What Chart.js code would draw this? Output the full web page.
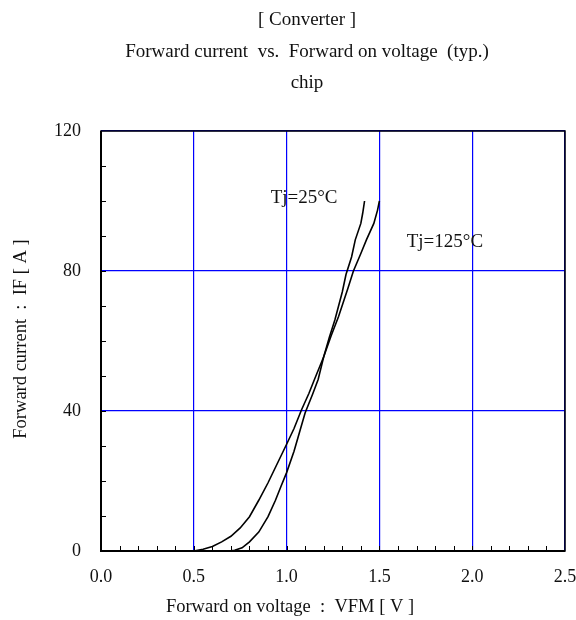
<!DOCTYPE html>
<html>
<head>
<meta charset="utf-8">
<script src="https://cdn.jsdelivr.net/npm/chart.js@4"></script>
<style>
  html, body { margin: 0; padding: 0; background: #fff; }
  #wrap { width: 576px; height: 620px; }
</style>
</head>
<body>
<div id="wrap"><canvas id="c" width="576" height="620"></canvas></div>
<script>
// ---- data ----
const titleLines = ["[ Converter ]", "Forward current  vs.  Forward on voltage  (typ.)", "chip"];
const xAxisTitle = "Forward on voltage  :  VFM [ V ]";
const yAxisTitle = "Forward current  :  IF [ A ]";
const xTicks = [0.0, 0.5, 1.0, 1.5, 2.0, 2.5];
const yTicks = [0, 40, 80, 120];

const vf125 = [0.50,0.55,0.60,0.65,0.70,0.75,0.80,0.85,0.90,0.95,1.00,1.04,1.08,1.12,1.15,1.20,1.24,1.28,1.33,1.36,1.40,1.43,1.47,1.49,1.50];
const if125 = [0,0.5,1.3,2.6,4.2,6.6,9.8,14.5,19.5,25.0,30.5,35.0,40.3,45.0,49.0,55.5,61.5,67.0,75.0,80.0,85.0,88.9,93.6,97.4,100];

const vf25 = [0.69,0.72,0.76,0.80,0.85,0.90,0.94,0.97,1.00,1.04,1.07,1.10,1.14,1.17,1.20,1.23,1.26,1.30,1.32,1.35,1.37,1.40,1.41,1.42];
const if25 = [0,0.2,0.9,2.6,5.4,9.8,14.5,18.5,22.4,28.5,34.0,39.5,44.8,49.0,55.5,61.0,66.0,74.0,79.0,84.0,88.9,93.6,96.5,100];

const curveLabels = [
  { text: "Tj=25°C",  x: 0.914, y: 100.8 },
  { text: "Tj=125°C", x: 1.647, y: 88.4 }
];

const FONT = "'Liberation Serif', 'Times New Roman', serif";
const toPts = (xs, ys) => xs.map((v, i) => ({ x: v, y: ys[i] }));

const decor = {
  id: 'decor',
  afterDraw(chart) {
    const ctx = chart.ctx;
    const a = chart.chartArea;
    const xs = chart.scales.x, ys = chart.scales.y;
    ctx.save();
    // minor ticks (inward)
    ctx.strokeStyle = '#000';
    ctx.lineWidth = 1;
    ctx.beginPath();
    for (let k = 1; k < 25; k++) {
      const px = Math.round(xs.getPixelForValue(k * 0.1)) + 0.5;
      ctx.moveTo(px, a.bottom);
      ctx.lineTo(px, a.bottom - 5);
    }
    for (let k = 1; k < 12; k++) {
      const py = Math.round(ys.getPixelForValue(k * 10)) + 0.5;
      ctx.moveTo(a.left, py);
      ctx.lineTo(a.left + 5, py);
    }
    ctx.stroke();
    // frame
    ctx.lineWidth = 1.5;
    ctx.strokeRect(a.left, a.top, a.right - a.left, a.bottom - a.top);
    ctx.lineWidth = 2;
    ctx.beginPath();
    ctx.moveTo(a.left, a.top); ctx.lineTo(a.left, a.bottom); ctx.lineTo(a.right, a.bottom);
    ctx.stroke();

    ctx.fillStyle = '#111';
    // titles
    ctx.font = '19px ' + FONT;
    ctx.textAlign = 'center';
    ctx.textBaseline = 'middle';
    const ty = [20, 52, 83];
    titleLines.forEach((t, i) => ctx.fillText(t, 307, ty[i]));
    // axis titles
    ctx.font = '18.5px ' + FONT;
    ctx.fillText(xAxisTitle, 290, 607);
    ctx.save();
    ctx.translate(21, 339);
    ctx.rotate(-Math.PI / 2);
    ctx.fillText(yAxisTitle, 0, 0);
    ctx.restore();
    // curve labels
    ctx.font = '19px ' + FONT;
    ctx.textAlign = 'left';
    curveLabels.forEach(l => ctx.fillText(l.text, xs.getPixelForValue(l.x), ys.getPixelForValue(l.y)));
    ctx.restore();
  }
};

new Chart(document.getElementById('c'), {
  type: 'scatter',
  data: {
    datasets: [
      { label: 'Tj=125°C', data: toPts(vf125, if125), showLine: true, borderColor: '#000', borderWidth: 1.6, pointRadius: 0, tension: 0, fill: false },
      { label: 'Tj=25°C',  data: toPts(vf25, if25),  showLine: true, borderColor: '#000', borderWidth: 1.6, pointRadius: 0, tension: 0, fill: false }
    ]
  },
  options: {
    responsive: false,
    animation: false,
    layout: { padding: { top: 131, right: 0, left: 0, bottom: 0 } },
    plugins: { legend: { display: false }, tooltip: { enabled: false }, title: { display: false } },
    scales: {
      x: {
        type: 'linear', min: 0, max: 2.5,
        afterBuildTicks: s => { s.ticks = xTicks.map(v => ({ value: v })); },
        afterFit: s => { s.height = 69; s.paddingRight = 11; },
        ticks: { color: '#111', font: { family: FONT, size: 18 }, padding: 15, callback: v => v.toFixed(1), maxRotation: 0 },
        grid: { color: 'rgb(0,0,255)', lineWidth: 1.2, drawTicks: false },
        border: { display: false }
      },
      y: {
        type: 'linear', min: 0, max: 120,
        afterBuildTicks: s => { s.ticks = yTicks.map(v => ({ value: v })); },
        afterFit: s => { s.width = 101; },
        ticks: { color: '#111', font: { family: FONT, size: 18 }, padding: 20 },
        grid: { color: 'rgb(0,0,255)', lineWidth: 1.2, drawTicks: false },
        border: { display: false }
      }
    }
  },
  plugins: [decor]
});
</script>
</body>
</html>
